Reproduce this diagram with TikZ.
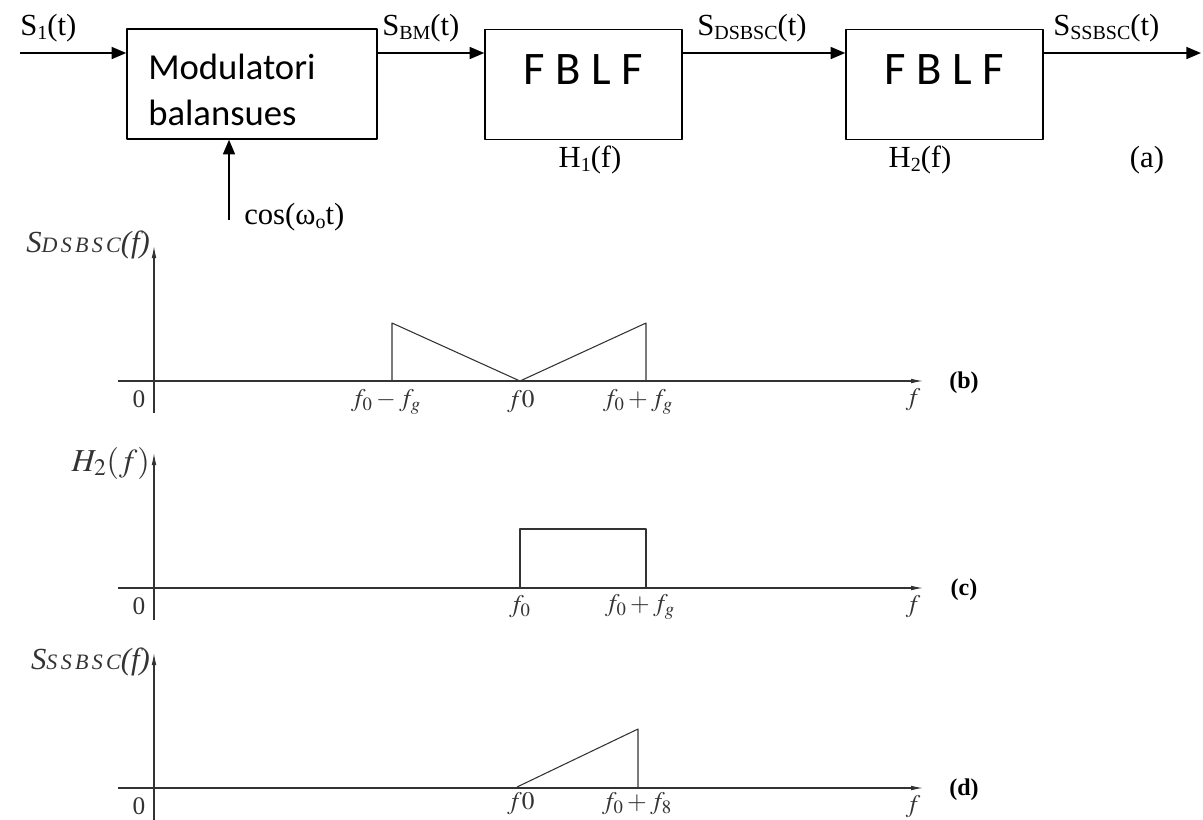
\documentclass[tikz,border=0pt]{standalone}
\usepackage{mathptmx}
\usepackage{fontspec}
\setmainfont{Liberation Serif}
\newfontfamily\boxfont{Carlito}
\usetikzlibrary{arrows.meta,positioning}
\newcommand{\lowsub}[1]{\raisebox{-0.35ex}{\fontsize{15}{15}\selectfont #1}}
\newcommand{\speclab}[2]{{\itshape\fontsize{23}{26}\selectfont #1{\fontsize{16.5}{18}\selectfont\addfontfeature{LetterSpace=15}#2}(f)}}

\begin{document}
\begin{tikzpicture}[x=0.75pt, y=-0.75pt, font=\fontsize{23}{26}\selectfont, line join=round,
  blk/.style={draw, line width=1.1pt, rectangle, minimum height=82.5pt, inner sep=0pt},
  sig/.style={line width=1.3pt, -{Triangle[length=11pt,width=9pt]}},
  lbl/.style={inner sep=0pt},
  axis/.style={line width=0.8pt, black!80, -{Latex[length=9pt,width=3.5pt]}},
  curve/.style={line width=0.8pt, black!80},
  glab/.style={inner sep=0pt, text=black!80, font=\fontsize{19}{22}\selectfont}]
\useasboundingbox (0,0) rectangle (1203,819);

% block diagram (a)
\node[blk, minimum width=187.5pt] (mod) at (252,84) {};
\node[lbl, anchor=north west, align=left, font=\boxfont\fontsize{27.5}{34.5}\selectfont]
  (modtxt) at (148,54) {Modulatori\\balansues};
\node[blk, minimum width=147.75pt, text height=22pt, text depth=22pt,
  font=\boxfont\fontsize{35}{40}\selectfont] (fb1) at (583.5,84.5) {F B L F};
\node[blk, minimum width=147.75pt, text height=22pt, text depth=22pt,
  font=\boxfont\fontsize{35}{40}\selectfont] (fb2) at (944.5,84.5) {F B L F};

\coordinate (in) at (20,53);
\coordinate (out) at (1201,53);
\coordinate (lo) at (229,220);
\draw[sig] (in) -- (in -| mod.west);
\draw[sig] (mod.east |- in) -- (fb1.west |- in);
\draw[sig] (fb1.east |- in) -- (fb2.west |- in);
\draw[sig] (fb2.east |- in) -- (out);
\draw[sig] (lo) -- (lo |- mod.south);

\node[lbl, anchor=base west] (s1) at (20,35) {S\lowsub{1}(t)};
\node[lbl, anchor=base west] (sbm) at (382,35) {S\lowsub{BM}(t)};
\node[lbl, anchor=base west] (sds) at (697,35) {S\lowsub{DSBSC}(t)};
\node[lbl, anchor=base west] (sss) at (1053,35) {S\lowsub{SSBSC}(t)};
\node[lbl, anchor=base] (h1) at (590,167) {H\lowsub{1}(f)};
\node[lbl, anchor=base] (h2) at (920,167) {H\lowsub{2}(f)};
\node[lbl, anchor=base] (tga) at (1147,167) {(a)};
\node[lbl, anchor=base west] (cosl) at (244,224) {cos(ω\lowsub{o}t)};

% spectra (b), (c), (d)
\foreach \yy/\tg in {381/b, 588/c, 788/d} {
  \draw[axis] (118,\yy) -- (923,\yy);
  \draw[axis] (154,\yy+32) -- (154,\yy-135);
  \node[glab] (zero\tg) at (139,\yy+18) {0};
  \node[glab] (fax\tg) at (913,\yy+19) {$f$};
  \node[inner sep=0pt, font=\bfseries\fontsize{18}{20}\selectfont] (tag\tg) at (964,\yy+2) {(\tg)};
}
\node[glab, anchor=east] (yb) at (150,245) {\speclab{S}{DSBSC}};
\node[glab, anchor=east, font=\fontsize{24}{26}\selectfont] (yc) at (150,463) {$H_2(f)$};
\node[glab, anchor=east] (yd) at (150,662) {\speclab{S}{SSBSC}};

\draw[curve] (392,381) -- (392,323) -- (520,381) -- (646,323) -- (646,381);
\node[glab] (b1) at (386,402) {$f_0 - f_g$};
\node[glab] (b2) at (521,402) {$f0$};
\node[glab] (b3) at (638,402) {$f_0 + f_g$};

\draw[curve] (520,588) -- (520,529) -- (646,529) -- (646,588);
\node[glab] (c1) at (520,607) {$f_0$};
\node[glab] (c2) at (640,607) {$f_0 + f_g$};

\draw[curve] (517,787) -- (638,729) -- (638,788);
\node[glab] (d1) at (521,804) {$f0$};
\node[glab] (d2) at (637,804) {$f_0 + f_8$};
\end{tikzpicture}
\end{document}
